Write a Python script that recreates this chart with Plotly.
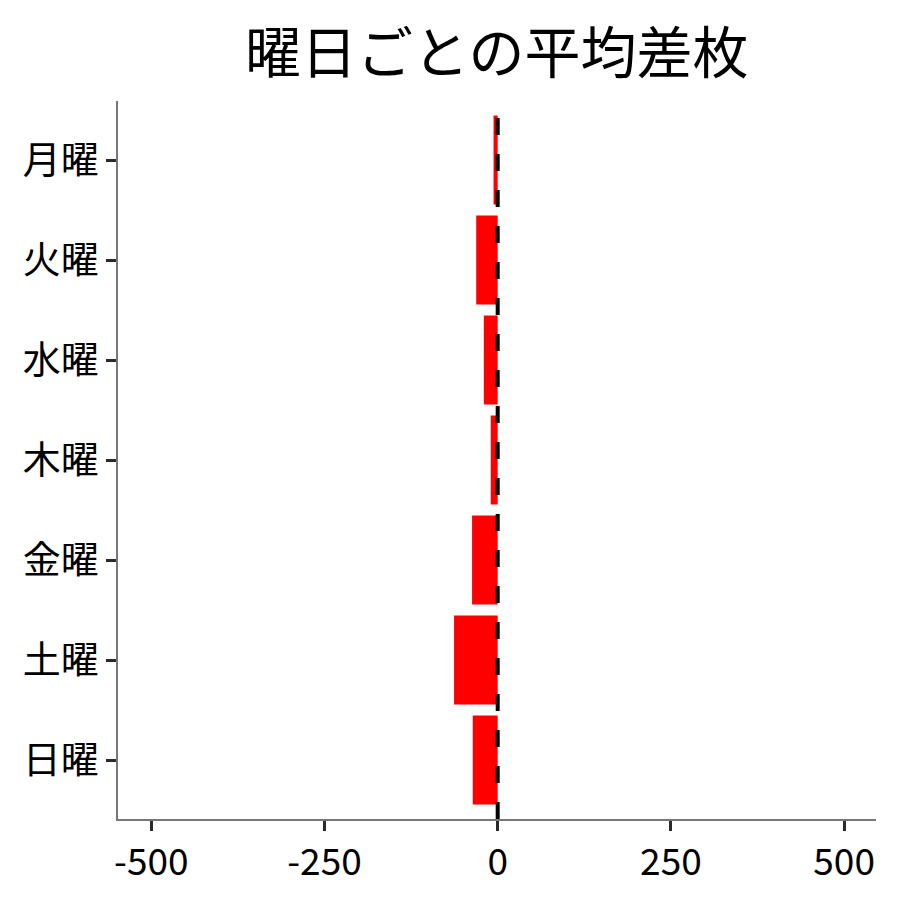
import plotly.graph_objects as go

days = ["月曜", "火曜", "水曜", "木曜", "金曜", "土曜", "日曜"]
avg_diff = [-6, -31, -20, -10, -37, -63, -36]
x_ticks = [-500, -250, 0, 250, 500]
x_tick_labels = ["-500", "-250", "0", "250", "500"]
title_text = "曜日ごとの平均差枚"

font_family = "Noto Sans CJK JP"

fig = go.Figure()
fig.add_trace(go.Bar(
    x=avg_diff, y=days, orientation="h",
    marker=dict(color="#ff0000", line=dict(width=0)),
))
fig.add_vline(x=0, line=dict(color="black", width=4, dash="17px,19px"))

fig.update_layout(
    width=900, height=900,
    paper_bgcolor="white", plot_bgcolor="white",
    margin=dict(l=110, r=32, t=93, b=89),
    bargap=0.11,
    showlegend=False,
    font=dict(family=font_family, color="black"),
    title=dict(text=title_text, x=0.543, xanchor="center", y=0.95, yanchor="middle",
               font=dict(size=56, family=font_family, color="black")),
)
fig.update_xaxes(
    range=[-548, 546], tickvals=x_ticks, ticktext=x_tick_labels,
    showgrid=False, zeroline=False,
    showline=True, linecolor="#777777", linewidth=1.5,
    ticks="outside", ticklen=10, tickwidth=3, tickcolor="#2a2a2a",
    tickfont=dict(size=37, family=font_family, color="black"),
)
fig.update_yaxes(
    categoryorder="array", categoryarray=days,
    range=[6.59, -0.59],
    showgrid=False, zeroline=False,
    showline=True, linecolor="#777777", linewidth=1.5,
    ticks="outside", ticklen=10, tickwidth=3, tickcolor="#2a2a2a",
    tickfont=dict(size=38, family=font_family, color="black"),
)

fig.write_html("out.html")
